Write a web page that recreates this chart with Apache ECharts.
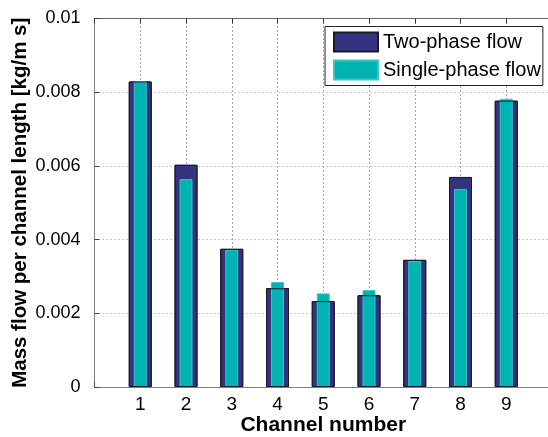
<!DOCTYPE html>
<html>
<head>
<meta charset="utf-8">
<script src="https://cdn.jsdelivr.net/npm/echarts@6/dist/echarts.min.js"></script>
<style>
  html, body { margin: 0; padding: 0; background: #fff; }
  #chart { width: 548px; height: 437px; }
</style>
</head>
<body>
<div id="chart"></div>
<script>
// channel flow comparison, two-phase vs single-phase
const channels = [1, 2, 3, 4, 5, 6, 7, 8, 9];
const twoPhase = [0.00829, 0.00603, 0.00375, 0.00268, 0.00233, 0.00249, 0.00345, 0.00570, 0.00777];
const singlePhase = [0.00829, 0.00564, 0.00372, 0.00285, 0.00254, 0.00263, 0.00342, 0.00537, 0.00782];
const yTicks = ['0', '0.002', '0.004', '0.006', '0.008', '0.01'];

const font = 'Liberation Sans, Arial, sans-serif';
const navy = '#333380';
const teal = '#00b3b3';

function pairs(vals) {
  return channels.map((c, i) => [c, vals[i]]);
}

const chart = echarts.init(document.getElementById('chart'));

const baseX = {
  type: 'value',
  min: 0,
  max: 10,
  interval: 1,
  axisLine: { show: false },
  axisTick: { show: false },
  axisLabel: { show: false },
  splitLine: { show: false }
};

const option = {
  animation: false,
  grid: { left: 94.5, right: -4, top: 18.5, bottom: 50, containLabel: false, outerBoundsMode: 'none' },
  legend: {
    orient: 'vertical',
    left: 325,
    top: 26.5,
    padding: [5, 2, 5, 8],
    itemWidth: 44,
    itemHeight: 19,
    itemGap: 7,
    icon: 'rect',
    backgroundColor: '#fff',
    borderColor: '#222',
    borderWidth: 1,
    borderRadius: 0,
    textStyle: { fontFamily: font, fontSize: 20, color: '#000' },
    data: ['Two-phase flow', 'Single-phase flow']
  },
  xAxis: [
    {
      type: 'value',
      min: 0,
      max: 10,
      interval: 1,
      name: 'Channel number',
      nameLocation: 'middle',
      nameGap: 28,
      nameMoveOverlap: false,
      nameTextStyle: { fontFamily: font, fontSize: 21, fontWeight: 'bold', color: '#000' },
      axisLine: { show: true, onZero: false, lineStyle: { color: '#808080', width: 1 } },
      axisTick: { show: true, inside: true, length: 5, lineStyle: { color: '#444' } },
      axisLabel: {
        fontFamily: font, fontSize: 19, color: '#000', margin: 8,
        formatter: v => (channels.indexOf(v) >= 0 ? String(v) : '')
      },
      splitLine: { show: true, lineStyle: { color: '#555', type: [1, 3], width: 1 } }
    },
    {
      type: 'value',
      min: 0,
      max: 10,
      interval: 1,
      position: 'top',
      axisLine: { show: true, onZero: false, lineStyle: { color: '#666', width: 1 } },
      axisTick: { show: true, inside: true, length: 5, lineStyle: { color: '#333' } },
      axisLabel: { show: false },
      splitLine: { show: false }
    },
    Object.assign({}, baseX)
  ],
  yAxis: {
    type: 'value',
    min: 0,
    max: 0.01,
    interval: 0.002,
    name: 'Mass flow per channel length [kg/m s]',
    nameLocation: 'middle',
    nameGap: 64,
    nameMoveOverlap: false,
    nameTextStyle: { fontFamily: font, fontSize: 20.5, fontWeight: 'bold', color: '#000' },
    axisLine: { show: true, lineStyle: { color: '#808080', width: 1 } },
    axisTick: { show: true, inside: true, length: 5, lineStyle: { color: '#444' } },
    axisLabel: {
      fontFamily: font, fontSize: 18, color: '#000', margin: 14,
      formatter: (v, idx) => yTicks[idx]
    },
    splitLine: { show: true, lineStyle: { color: '#999', type: [1, 3], width: 1 } }
  },
  series: [
    {
      name: 'Two-phase flow',
      type: 'bar',
      xAxisIndex: 0,
      barWidth: 23,
      itemStyle: { color: navy, borderColor: '#1a1a2a', borderWidth: 1 },
      data: pairs(twoPhase)
    },
    {
      name: 'Single-phase flow',
      type: 'bar',
      xAxisIndex: 1,
      barWidth: 13,
      itemStyle: { color: teal, borderColor: '#3cc4c4', borderWidth: 1 },
      data: pairs(singlePhase)
    },
    {
      name: 'outline',
      type: 'bar',
      xAxisIndex: 2,
      barWidth: 23,
      silent: true,
      itemStyle: { color: 'rgba(0,0,0,0)', borderColor: '#1a1a2a', borderWidth: 1 },
      data: pairs(twoPhase)
    }
  ]
};

chart.setOption(option);
</script>
</body>
</html>
